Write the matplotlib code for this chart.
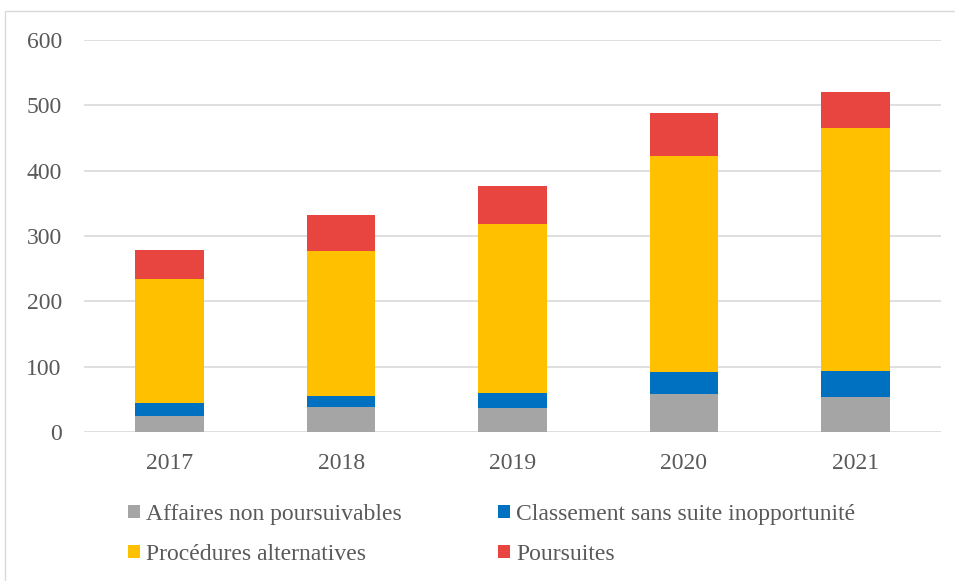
import matplotlib
matplotlib.use("Agg")
import matplotlib.pyplot as plt
from matplotlib.patches import Rectangle
import numpy as np

years = ["2017", "2018", "2019", "2020", "2021"]
affaires_non_poursuivables = [25, 39, 36, 58, 54]
classement_sans_suite = [19, 16, 24, 34, 40]
procedures_alternatives = [190, 222, 259, 330, 372]
poursuites = [44, 55, 58, 67, 55]

series = [
    ("Affaires non poursuivables", affaires_non_poursuivables, "#A5A5A5"),
    ("Classement sans suite inopportunité", classement_sans_suite, "#0070C0"),
    ("Procédures alternatives", procedures_alternatives, "#FFC000"),
    ("Poursuites", poursuites, "#E84540"),
]

plt.rcParams['font.family'] = ['Liberation Serif', 'DejaVu Serif']
W, H = 955, 581
fig = plt.figure(figsize=(W / 100, H / 100), dpi=100)
fig.patches.append(Rectangle((5 / W, -0.1), 1.2, (H - 11) / H + 0.1, transform=fig.transFigure,
                             fill=False, edgecolor="#D9D9D9", linewidth=1.0))
ax = fig.add_axes([84 / W, (H - 432) / H, (941 - 84) / W, (432 - 40) / H])

x = np.arange(len(years))
bottom = np.zeros(len(years))
handles = []
for name, vals, col in series:
    b = ax.bar(x, vals, width=0.4, bottom=bottom, color=col, label=name, zorder=3)
    bottom += np.array(vals)
    handles.append(b)

ax.set_xlim(-0.5, len(years) - 0.5)
ax.set_ylim(0, 600)
ax.set_yticks(range(0, 601, 100))
ax.set_xticks(x)
ax.set_xticklabels(years)
ax.grid(axis='y', color="#D9D9D9", linewidth=1.2, zorder=0)
for s in ax.spines.values():
    s.set_visible(False)
ax.tick_params(axis='both', length=0, labelsize=17, labelcolor="#595959")
ax.tick_params(axis='y', pad=16)
ax.tick_params(axis='x', pad=15)

order = [0, 2, 1, 3]
leg = fig.legend(handles=[handles[i] for i in order], labels=[series[i][0] for i in order], ncol=2,
                 loc='upper left', bbox_to_anchor=(128 / W, (H - 504) / H),
                 frameon=False, fontsize=17, labelcolor="#595959",
                 handlelength=0.5, handleheight=0.5, handletextpad=0.25,
                 columnspacing=4.1, labelspacing=0.8, borderaxespad=0, borderpad=0)

fig.savefig("out.png", dpi=100)
